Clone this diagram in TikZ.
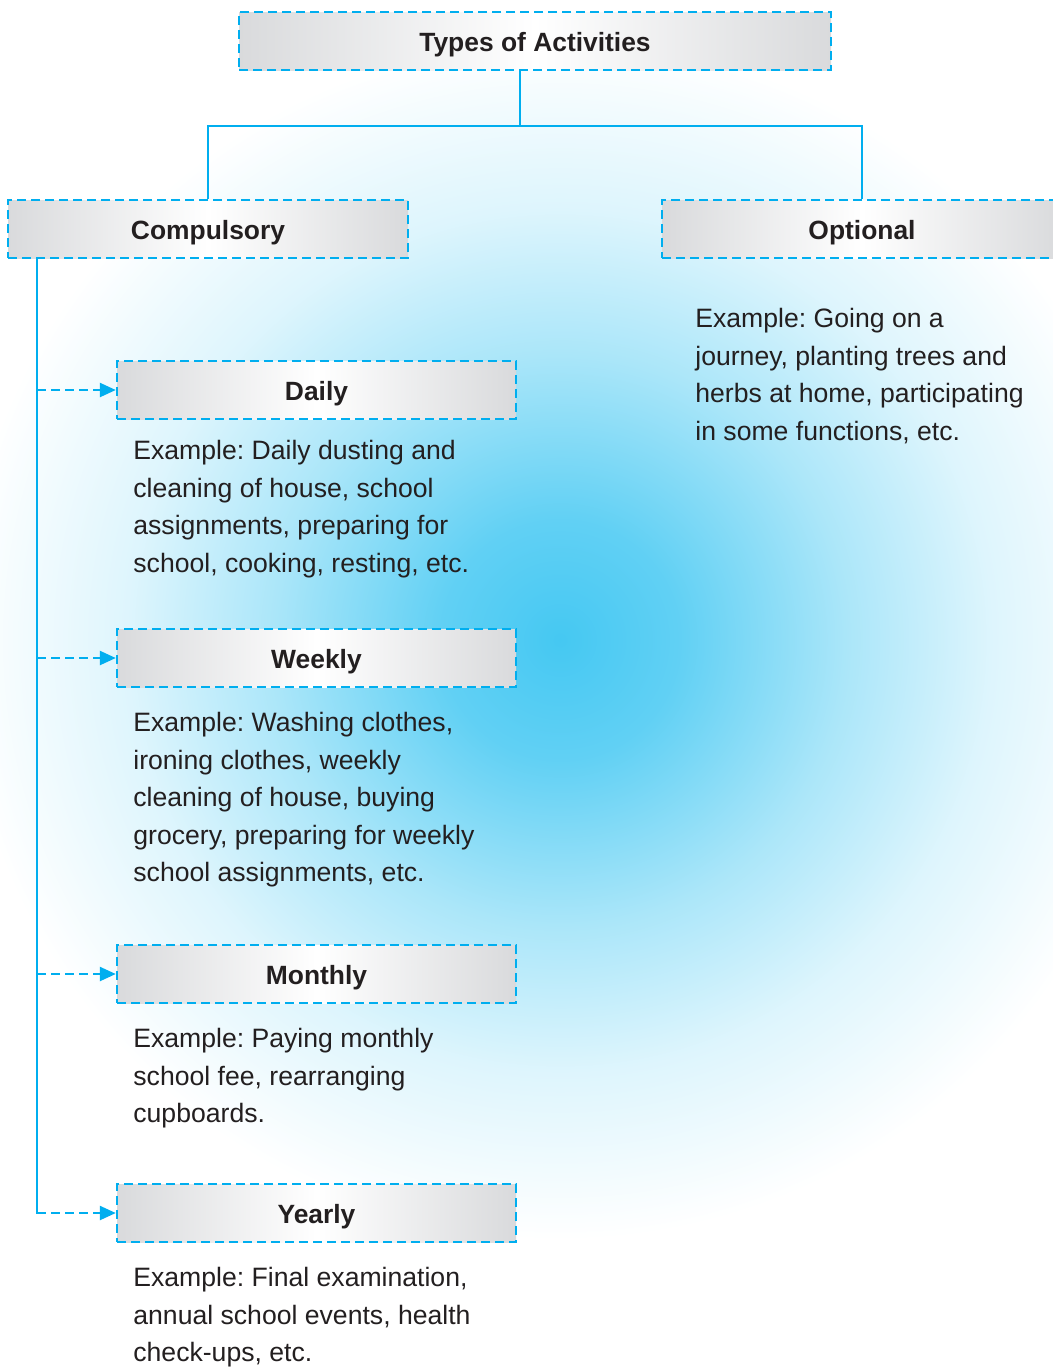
\documentclass[tikz,border=0pt]{standalone}
\usepackage{fontspec}
\setmainfont{Liberation Sans}
\frenchspacing
\usetikzlibrary{arrows.meta,positioning}
\definecolor{ink}{HTML}{231F20}
\definecolor{cyanline}{HTML}{00AEEF}
\definecolor{glowc}{HTML}{45C8F2}
\definecolor{boxgray}{HTML}{D9DADC}
\pgfdeclareradialshading{haze}{\pgfpoint{0bp}{0bp}}{color(0bp)=(glowc); color(2.5bp)=(glowc!85!white); color(6bp)=(glowc!45!white); color(9bp)=(glowc!18!white); color(12.5bp)=(white); color(50bp)=(white)}
\tikzset{
  box/.style={draw=cyanline, dash pattern=on 4.5pt off 2.5pt, line width=1.2pt,
    left color=boxgray, right color=boxgray, middle color=white,
    minimum height=29pt, inner sep=0pt, text height=10pt, text depth=0pt,
    text=ink, font=\bfseries\fontsize{13.2}{15}\selectfont},
  link/.style={draw=cyanline, line width=1.4pt},
  feed/.style={draw=cyanline, line width=1.2pt, dash pattern=on 4.5pt off 2.5pt,
    -{Triangle[length=8pt,width=7pt]}},
  note/.style={anchor=north west, inner sep=0pt, align=left, text=ink,
    font=\fontsize{13.3}{18.75}\selectfont},
}
\begin{document}
\begin{tikzpicture}[x=0.5pt,y=-0.5pt]
  \clip (0,0) rectangle (1053,1367);
  \fill[shading=haze] (560,640) circle (600pt);
  % top of the tree
  \node[box, minimum width=296pt] (types) at (535,41) {Types of Activities};
  \node[box, minimum width=200pt] (comp) at (208,229) {Compulsory};
  \node[box, minimum width=200pt] (opt) at (862,229) {Optional};
  \coordinate (split) at (520,126);
  \draw[link] (types.south -| split) -- (split);
  \draw[link] (comp.north) |- (split) -| (opt.north);
  \node[note] (opttext) at (695,308) {Example: Going on a\\journey, planting trees and\\herbs at home, participating\\in some functions, etc.};
  % compulsory branches
  \node[box, minimum width=199.5pt] (daily) at (316.5,390) {Daily};
  \node[box, minimum width=199.5pt] (weekly) at (316.5,658) {Weekly};
  \node[box, minimum width=199.5pt] (monthly) at (316.5,974) {Monthly};
  \node[box, minimum width=199.5pt] (yearly) at (316.5,1213) {Yearly};
  \coordinate (trunk) at (37,258);
  \draw[link] (comp.south -| trunk) -- (trunk |- yearly.west) -- ++(2,0);
  \foreach \n in {daily,weekly,monthly,yearly}
    \draw[feed] (trunk |- \n.west) -- (\n.west);
  \node[note] (dailytext) at (133,440) {Example: Daily dusting and\\cleaning of house, school\\assignments, preparing for\\school, cooking, resting, etc.};
  \node[note] (weeklytext) at (133,712) {Example: Washing clothes,\\ironing clothes, weekly\\cleaning of house, buying\\grocery, preparing for weekly\\school assignments, etc.};
  \node[note] (monthlytext) at (133,1028) {Example: Paying monthly\\school fee, rearranging\\cupboards.};
  \node[note] (yearlytext) at (133,1267) {Example: Final examination,\\annual school events, health\\check-ups, etc.};
\end{tikzpicture}
\end{document}
